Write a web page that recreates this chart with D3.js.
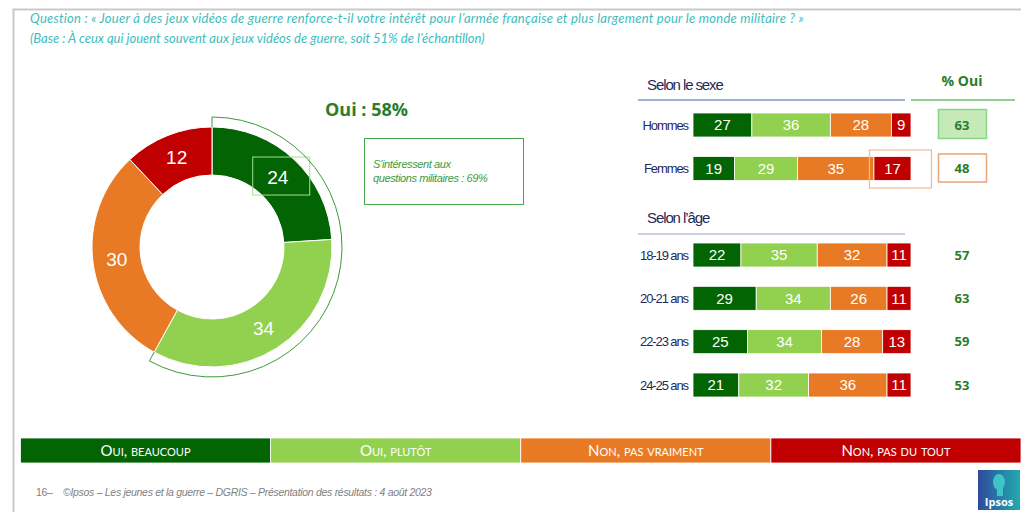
<!DOCTYPE html>
<html>
<head>
<meta charset="utf-8">
<script src="https://cdn.jsdelivr.net/npm/d3@7"></script>
<style>
  body { margin: 0; background: #fff; }
  svg { display: block; }
</style>
</head>
<body>
<svg id="chart" width="1021" height="512"></svg>
<script>
// answer categories and colours
const categories = ['Oui, beaucoup', 'Oui, plutôt', 'Non, pas vraiment', 'Non, pas du tout'];
const colors = ['#036403', '#92d050', '#e97a25', '#c00000'];

// overall answer split (donut)
const totalValues = [24, 34, 30, 12];
const ouiTotal = 58;
const interestedShare = 69;

// by gender
const sexGroups = ['Hommes', 'Femmes'];
const sexValues = [[27, 36, 28, 9], [19, 29, 35, 17]];
const sexOui = [63, 48];

// by age
const ageGroups = ['18-19 ans', '20-21 ans', '22-23 ans', '24-25 ans'];
const ageValues = [[22, 35, 32, 11], [29, 34, 26, 11], [25, 34, 28, 13], [21, 32, 36, 11]];
const ageOui = [57, 63, 59, 53];

const svg = d3.select('#chart');
const teal = '#3fbcbc';
const navy = '#1f2a5c';
const green = '#2a7d2a';

// frame
svg.append('path')
  .attr('d', 'M13.5,512 V9.5 H1021')
  .attr('fill', 'none').attr('stroke', '#c9c9c9').attr('stroke-width', 2);

// question
const q = svg.append('g').attr('font-family', 'Lato').attr('font-style', 'italic')
  .attr('font-size', 13).attr('fill', teal);
q.append('text').attr('x', 30).attr('y', 23).attr('letter-spacing', 0.25)
  .text('Question : « Jouer à des jeux vidéos de guerre renforce-t-il votre intérêt pour l’armée française et plus largement pour le monde militaire ? »');
q.append('text').attr('x', 30).attr('y', 43)
  .text('(Base : À ceux qui jouent souvent aux jeux vidéos de guerre, soit 51% de l’échantillon)');

// ---- donut
const cx = 212, cy = 247, rIn = 72, rOut = 120;
const pie = d3.pie().sort(null).value(d => d);
const arc = d3.arc().innerRadius(rIn).outerRadius(rOut);
const arcs = pie(totalValues);
const donut = svg.append('g').attr('transform', `translate(${cx},${cy})`);

donut.selectAll('path.slice')
  .data(arcs)
  .join('path')
  .attr('class', 'slice')
  .attr('d', arc)
  .attr('fill', (d, i) => colors[i])
  .attr('stroke', '#fff')
  .attr('stroke-width', 1);

donut.selectAll('text.val')
  .data(arcs)
  .join('text')
  .attr('class', 'val')
  .attr('transform', d => `translate(${arc.centroid(d)})`)
  .attr('text-anchor', 'middle')
  .attr('dy', '0.35em')
  .attr('font-family', 'Liberation Sans, Arial')
  .attr('font-size', 19)
  .attr('fill', '#fff')
  .text(d => d.data);

// box around the first label
const c0 = arc.centroid(arcs[0]);
donut.append('rect')
  .attr('x', c0[0] - 25).attr('y', c0[1] - 20)
  .attr('width', 57).attr('height', 38)
  .attr('fill', 'none').attr('stroke', '#a8dc98').attr('stroke-width', 1);

// bracket around the "oui" share
const rB = 130;
const endA = arcs[1].endAngle;
const bp = d3.path();
bp.moveTo(0, -rOut);
bp.lineTo(0, -rB);
bp.arc(0, 0, rB, -Math.PI / 2, endA - Math.PI / 2, false);
bp.lineTo(rOut * Math.sin(endA), -rOut * Math.cos(endA));
donut.append('path').attr('d', bp.toString())
  .attr('fill', 'none').attr('stroke', '#3d9a3d').attr('stroke-width', 1);

svg.append('text').attr('x', 325).attr('y', 116)
  .attr('font-family', 'Open Sans').attr('font-weight', 'bold').attr('font-size', 18)
  .attr('fill', green).text(`Oui : ${ouiTotal}%`);

svg.append('rect').attr('x', 364.5).attr('y', 138.5).attr('width', 159).attr('height', 66)
  .attr('fill', 'none').attr('stroke', '#4aa64a').attr('stroke-width', 1);
const note = svg.append('g').attr('font-family', 'Liberation Sans, Arial').attr('font-style', 'italic')
  .attr('font-size', 11).attr('fill', '#3d9a3d').attr('letter-spacing', -0.4);
note.append('text').attr('x', 373).attr('y', 168).text('S’intéressent aux');
note.append('text').attr('x', 373).attr('y', 182).text(`questions militaires : ${interestedShare}%`);

// ---- stacked bars
const x = d3.scaleLinear().domain([0, 100]).range([693, 911]);
const barH = 24;
const ySex = d3.scalePoint().domain(sexGroups).range([125, 168.5]);
const yAge = d3.scalePoint().domain(ageGroups).range([255, 385]);

function drawBars(groups, values, y) {
  const g = svg.append('g');
  groups.forEach((name, gi) => {
    const stack = d3.cumsum([0].concat(values[gi]));
    const row = g.append('g');
    row.selectAll('rect')
      .data(values[gi])
      .join('rect')
      .attr('x', (d, i) => x(stack[i]))
      .attr('y', y(name) - barH / 2)
      .attr('width', d => x(d) - x(0))
      .attr('height', barH)
      .attr('fill', (d, i) => colors[i])
      .attr('stroke', '#fff').attr('stroke-width', 0.8);
    row.selectAll('text')
      .data(values[gi])
      .join('text')
      .attr('x', (d, i) => x(stack[i] + d / 2))
      .attr('y', y(name))
      .attr('dy', '0.36em')
      .attr('text-anchor', 'middle')
      .attr('font-family', 'Liberation Sans, Arial')
      .attr('font-size', 15)
      .attr('fill', '#fff')
      .text(d => d);
  });
  g.append('g')
    .attr('transform', `translate(${x(0) - 5},0)`)
    .call(d3.axisLeft(y).tickSize(0).tickPadding(0))
    .call(a => a.select('.domain').remove())
    .selectAll('text')
    .attr('font-family', 'Liberation Sans, Arial')
    .attr('font-size', 13)
    .attr('letter-spacing', -1.1)
    .attr('fill', navy);
}

drawBars(sexGroups, sexValues, ySex);
drawBars(ageGroups, ageValues, yAge);

// section titles
const heads = svg.append('g').attr('font-family', 'Liberation Sans, Arial').attr('font-size', 15)
  .attr('letter-spacing', -1.1).attr('fill', navy);
heads.append('text').attr('x', 647).attr('y', 90).text('Selon le sexe');
heads.append('text').attr('x', 647).attr('y', 223).text('Selon l’âge');
svg.append('line').attr('x1', 638).attr('x2', 905).attr('y1', 100).attr('y2', 100)
  .attr('stroke', '#8096c4').attr('stroke-width', 1.5);
svg.append('line').attr('x1', 638).attr('x2', 905).attr('y1', 234).attr('y2', 234)
  .attr('stroke', '#b4bfd8').attr('stroke-width', 1.5);
svg.append('line').attr('x1', 911).attr('x2', 1015).attr('y1', 100).attr('y2', 100)
  .attr('stroke', '#6fbf6f').attr('stroke-width', 1.5);
svg.append('text').attr('x', 962).attr('y', 86).attr('text-anchor', 'middle')
  .attr('font-family', 'Open Sans').attr('font-weight', 'bold').attr('font-size', 14)
  .attr('fill', green).text('% Oui');

// highlight boxes
svg.append('rect').attr('x', 938.5).attr('y', ySex('Hommes') - 15.5).attr('width', 48).attr('height', 29)
  .attr('fill', '#c5eab8').attr('stroke', '#8ad48a').attr('stroke-width', 1.5);
svg.append('rect').attr('x', 938.5).attr('y', ySex('Femmes') - 14.5).attr('width', 48).attr('height', 28)
  .attr('fill', '#fff').attr('stroke', '#e6a77a').attr('stroke-width', 1.5);
svg.append('rect').attr('x', x(83) - 4.5).attr('y', ySex('Femmes') - 18.5).attr('width', 62).attr('height', 38)
  .attr('fill', 'none').attr('stroke', '#f3b990').attr('stroke-width', 1.2);

// % oui values
const ouiText = svg.append('g').attr('font-family', 'Open Sans').attr('font-weight', 'bold')
  .attr('font-size', 13).attr('fill', green).attr('text-anchor', 'middle');
ouiText.selectAll('text.s').data(sexOui).join('text').attr('class', 's')
  .attr('x', 962).attr('y', (d, i) => ySex(sexGroups[i])).attr('dy', '0.36em').text(d => d);
ouiText.selectAll('text.a').data(ageOui).join('text').attr('class', 'a')
  .attr('x', 962).attr('y', (d, i) => yAge(ageGroups[i])).attr('dy', '0.36em').text(d => d);

// ---- legend band
const lx = d3.scaleBand().domain(categories).range([20.5, 1021]);
const leg = svg.append('g');
leg.selectAll('rect').data(categories).join('rect')
  .attr('x', d => lx(d)).attr('y', 438).attr('width', lx.bandwidth()).attr('height', 25)
  .attr('fill', (d, i) => colors[i]).attr('stroke', '#fff').attr('stroke-width', 0.8);
leg.selectAll('text').data(categories).join('text')
  .attr('x', d => lx(d) + lx.bandwidth() / 2).attr('y', 456)
  .attr('text-anchor', 'middle')
  .attr('font-family', 'Lato').attr('font-size', 15)
  .style('font-variant', 'small-caps')
  .attr('fill', '#fff')
  .text(d => d);

// ---- footer
const foot = svg.append('g').attr('font-family', 'Liberation Sans, Arial').attr('font-size', 10.5)
  .attr('fill', '#7f7f7f').attr('letter-spacing', -0.3);
foot.append('text').attr('x', 36).attr('y', 496).text('16–');
foot.append('text').attr('x', 63).attr('y', 496).attr('font-style', 'italic')
  .text('©Ipsos – Les jeunes et la guerre – DGRIS – Présentation des résultats : 4 août 2023');

// ipsos logo
const defs = svg.append('defs');
const grad = defs.append('linearGradient').attr('id', 'ipsosGrad').attr('x1', 0).attr('x2', 1);
grad.append('stop').attr('offset', '0%').attr('stop-color', '#2f4a9c');
grad.append('stop').attr('offset', '100%').attr('stop-color', '#23a9b0');
const logo = svg.append('g').attr('transform', 'translate(978,470)');
logo.append('rect').attr('width', 42).attr('height', 40).attr('fill', 'url(#ipsosGrad)');
logo.append('ellipse').attr('cx', 21).attr('cy', 12).attr('rx', 6).attr('ry', 8).attr('fill', '#3cc4c6');
logo.append('rect').attr('x', 19).attr('y', 18).attr('width', 6).attr('height', 8).attr('fill', '#3cc4c6');
logo.append('text').attr('x', 21).attr('y', 36).attr('text-anchor', 'middle')
  .attr('font-family', 'Open Sans').attr('font-weight', 'bold').attr('font-size', 11)
  .attr('fill', '#fff').text('Ipsos');
</script>
</body>
</html>
